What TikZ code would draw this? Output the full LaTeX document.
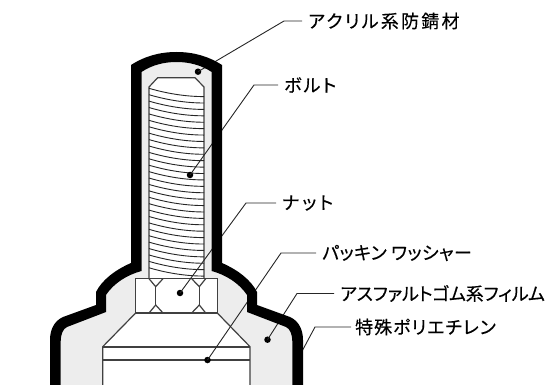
\documentclass[tikz,border=0pt]{standalone}
\usepackage{fontspec}
\setmainfont[RawFeature=+palt,FakeBold=0.35]{Noto Sans CJK JP}
\newcommand{\spaced}[1]{\addfontfeatures{LetterSpace=#1}}
\newcommand{\outerpathL}{(50,385) -- (50,340) .. controls (50,330) and (54,321) .. (63,317) -- (96,305) -- (96,292) .. controls (102,280) and (115,270) .. (131,263) -- (131,65) .. controls (145,56) and (160,52) .. (176.5,52) .. controls (193,52) and (208,56) .. (222,65) -- (222,263) .. controls (238,270) and (251,280) .. (257,292) -- (257,305) -- (290,317) .. controls (299,321) and (303,330) .. (303,340) -- (303,385) -- cycle}
\newcommand{\innerpathL}{(60.7,385) -- (60.7,342) .. controls (60.7,334) and (63,329) .. (67,327) -- (106,312) -- (106,295) .. controls (114,283) and (127,275) .. (141.5,271) -- (141.5,72) .. controls (152,65) and (164,62) .. (176.5,62) .. controls (189,62) and (201,65) .. (211.7,72) -- (211.7,271) .. controls (226,275) and (239,283) .. (247,295) -- (247,312) -- (286,327) .. controls (290,329) and (292.3,334) .. (292.3,342) -- (292.3,385) -- cycle}
\tikzset{
  part/.style={draw=black!75,line width=1.2pt,fill=white,line join=miter},
  edgeline/.style={draw=black!75,line width=1.2pt},
  thread/.style={draw=black!85,line width=.9pt},
  leader/.style={draw=black!85,line width=.9pt},
  spot/.style={circle,fill=black,inner sep=0pt,minimum size=6.5pt},
  lab/.style={anchor=west,inner ysep=0pt,inner xsep=6pt,font=\fontsize{18pt}{20pt}\selectfont,text=black},
}
\begin{document}
\begin{tikzpicture}[x=1pt,y=-1pt]
\useasboundingbox (0,0) rectangle (560,385);
\fill[fill=black!7] \innerpathL;
% lower bore
\fill[white] (135.7,313) -- (102.7,346.7) -- (102.7,385) -- (250,385) -- (250,346.7) -- (217.3,313) -- cycle;
\path[edgeline] (135.7,313) -- (102.7,346.7) -- (102.7,385);
\path[edgeline] (217.3,313) -- (250,346.7) -- (250,385);
\path[edgeline,line width=1.7pt] (102.7,347) -- (250,347);
\path[edgeline] (102.7,360) -- (250,360);
% bolt
\path[part] (149,278.7) -- (149,87) -- (157.7,77.7) -- (195,77.7) -- (204,87) -- (204,278.7) -- cycle;
\foreach \k in {0,...,28}{
  \pgfmathsetmacro{\yy}{88.3+6.41*\k}
  \path[thread] (149,\yy) .. controls (166,\yy+5) and (185,\yy+8.3) .. (204,\yy+8.3);
}
% nut
\path[part] (135.7,278.7) rectangle (217.3,313);
\path[edgeline] (149,278.7) -- (155.7,286.7) -- (163,278.7);
\path[edgeline] (155.7,286.7) -- (155.7,305);
\path[edgeline] (149,313) -- (155.7,305) -- (163,313);
\path[edgeline] (191.7,278.7) -- (199.3,286.7) -- (205.7,278.7);
\path[edgeline] (199.3,286.7) -- (199.3,305);
\path[edgeline] (191.7,313) -- (199.3,305) -- (205.7,313);
% spots
\node[spot] (dotA) at (198,71.7) {};
\node[spot] (dotB) at (190,175) {};
\node[spot] (dotC) at (180,293) {};
\node[spot] (dotD) at (207.5,360) {};
\node[spot] (dotE) at (267.5,339.7) {};
\coordinate (dotF) at (300,355);
% labels
\node[lab] (labA) at (302,21) {\spaced{12.5}アクリル系防錆材};
\node[lab] (labB) at (278,85) {\spaced{11}ボルト};
\node[lab] (labC) at (276,203) {\spaced{16}ナット};
\node[lab] (labD) at (316,253) {\spaced{2}パッキン ワッシャー};
\node[lab] (labE) at (334,293.5) {\spaced{-1}アスファルトゴム系フィルム};
\node[lab,inner xsep=4pt] (labF) at (351,327) {\spaced{5.5}特殊ポリエチレン};
\coordinate (bendA) at (284,21);
\coordinate (bendB) at (254,85);
\coordinate (bendC) at (246,203);
\coordinate (bendD) at (281,253);
\coordinate (bendE) at (297,293.5);
\coordinate (bendF) at (315,327);
% leaders
\path[leader] (dotA.center) -- (bendA) -- (labA.west);
\path[leader] (dotB.center) -- (bendB) -- (labB.west);
\path[leader] (dotC.center) -- (bendC) -- (labC.west);
\path[leader] (dotD.center) -- (bendD) -- (labD.west);
\path[leader] (dotE.center) -- (bendE) -- (labE.west);
\path[leader] (dotF) -- (bendF) -- (labF.west);
% black film on top
\fill[black,even odd rule] \outerpathL \innerpathL;
\end{tikzpicture}
\end{document}
